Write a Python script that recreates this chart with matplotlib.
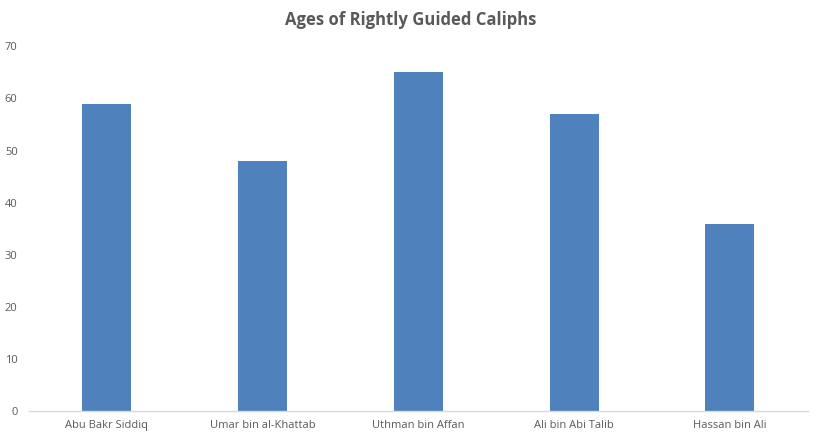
import matplotlib
matplotlib.use("Agg")
import matplotlib.pyplot as plt

categories = ["Abu Bakr Siddiq", "Umar bin al-Khattab", "Uthman bin Affan", "Ali bin Abi Talib", "Hassan bin Ali"]
ages = [59, 48, 65, 57, 36]
yticks = [0, 10, 20, 30, 40, 50, 60, 70]

plt.rcParams['font.family'] = ['Open Sans', 'DejaVu Sans']

fig = plt.figure(figsize=(8.21, 4.40), dpi=100)
ax = fig.add_axes([0.035, 0.065, 0.949, 0.83])
x = range(len(categories))
ax.bar(x, ages, width=0.315, color="#4F81BD", zorder=2)
ax.set_xlim(-0.5, len(categories) - 0.5)
ax.set_ylim(0, 70)
ax.set_yticks(yticks)
ax.set_xticks(list(x))
ax.set_xticklabels(categories)
for s in ["top", "right", "left"]:
    ax.spines[s].set_visible(False)
ax.spines["bottom"].set_color("#D9D9D9")
ax.spines["bottom"].set_linewidth(1)
ax.tick_params(axis="both", length=0, labelsize=8, colors="#595959")
ax.tick_params(axis="y", pad=8)
ax.tick_params(axis="x", pad=6)
fig.text(0.5, 0.955, "Ages of Rightly Guided Caliphs", ha="center", va="center",
         fontsize=12, fontweight="bold", color="#595959")
fig.savefig("out.png", dpi=100)
